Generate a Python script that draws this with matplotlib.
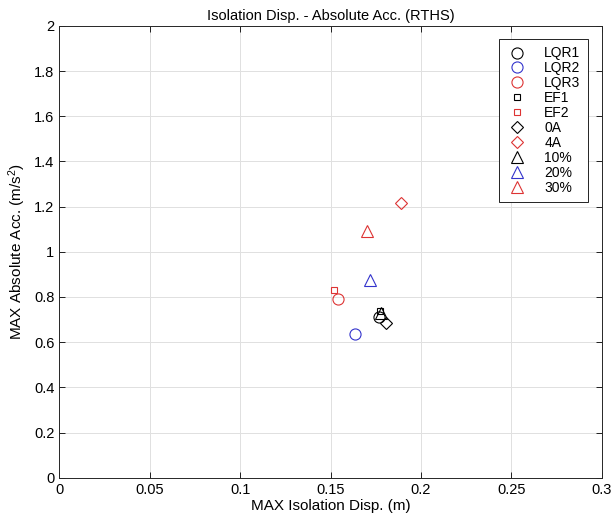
import matplotlib
matplotlib.use("Agg")
import matplotlib.pyplot as plt

plt.rcParams['font.family'] = ['Liberation Sans', 'DejaVu Sans']
plt.rcParams['mathtext.default'] = 'regular'

# data
labels = ['LQR1', 'LQR2', 'LQR3', 'EF1', 'EF2', '0A', '4A', '10%', '20%', '30%']
disp = [0.1767, 0.1634, 0.1539, 0.1771, 0.1517, 0.1805, 0.1887, 0.1778, 0.1718, 0.1704]
acc = [0.710, 0.637, 0.793, 0.738, 0.832, 0.683, 1.218, 0.730, 0.876, 1.091]
markers = ['o', 'o', 'o', 's', 's', 'D', 'D', '^', '^', '^']
colors = ['k', '#3333cc', '#dd3333', 'k', '#dd3333', 'k', '#dd3333', 'k', '#3333cc', '#dd3333']
sizes = [8, 8, 8, 5, 5, 6, 6, 8, 8, 8]

xticks = [0, 0.05, 0.1, 0.15, 0.2, 0.25, 0.3]
xticklabels = ['0', '0.05', '0.1', '0.15', '0.2', '0.25', '0.3']
yticks = [0, 0.2, 0.4, 0.6, 0.8, 1.0, 1.2, 1.4, 1.6, 1.8, 2.0]
yticklabels = ['0', '0.2', '0.4', '0.6', '0.8', '1', '1.2', '1.4', '1.6', '1.8', '2']

fig = plt.figure(figsize=(6.13, 5.26), dpi=100)
ax = fig.add_axes([0.0967, 0.0918, 0.885, 0.859])

for x, y, m, c, s, lab in zip(disp, acc, markers, colors, sizes, labels):
    ax.plot(x, y, linestyle='none', marker=m, markersize=s, markerfacecolor='none',
            markeredgecolor=c, markeredgewidth=0.8, label=lab)

ax.set_xlim(0, 0.3)
ax.set_ylim(0, 2)
ax.set_xticks(xticks)
ax.set_xticklabels(xticklabels)
ax.set_yticks(yticks)
ax.set_yticklabels(yticklabels)
ax.tick_params(direction='in', top=True, right=True, labelsize=10.5, length=4, width=0.6)
ax.grid(True, color='#e0e0e0', linewidth=0.7)
ax.set_axisbelow(True)
for sp in ax.spines.values():
    sp.set_linewidth(0.7)
    sp.set_color('#262626')

ax.set_title('Isolation Disp. - Absolute Acc. (RTHS)', fontsize=10.5, pad=4)
ax.set_xlabel('MAX Isolation Disp. (m)', fontsize=11, labelpad=2)
ax.set_ylabel('MAX Absolute Acc. (m/s$^2$)', fontsize=11, labelpad=4)

leg = ax.legend(loc='upper right', bbox_to_anchor=(0.974, 0.97), fontsize=10, frameon=True,
                fancybox=False, edgecolor='k', framealpha=1, borderpad=0.5,
                labelspacing=0.07, handlelength=1.6, handletextpad=1.2, borderaxespad=0)
leg.get_frame().set_linewidth(0.6)

fig.savefig('out.png', dpi=100)
